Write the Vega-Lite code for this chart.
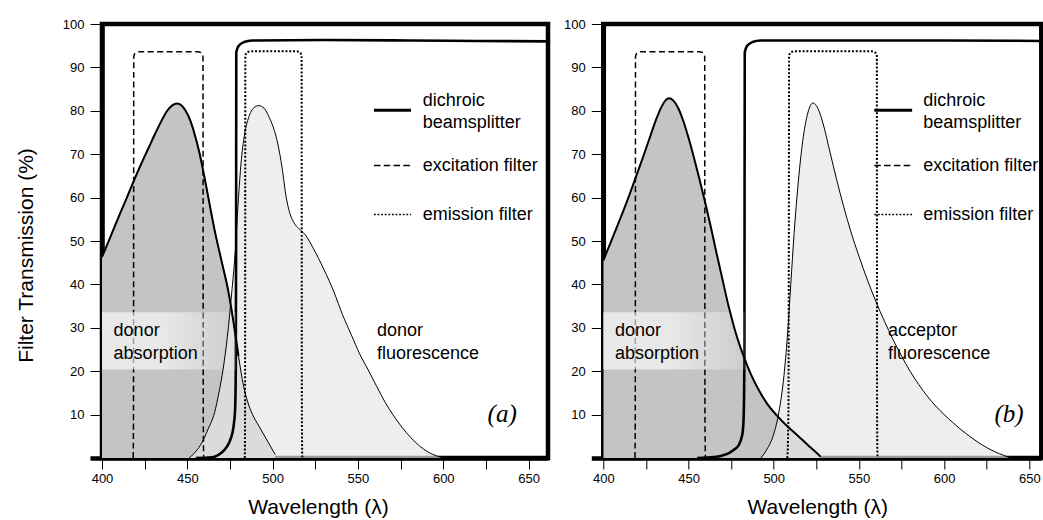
{
  "$schema": "https://vega.github.io/schema/vega-lite/v6.json",
  "padding": {"left": 13, "top": 15, "right": 0, "bottom": 0},
  "background": "white",
  "config": {
    "view": {"stroke": "black", "strokeWidth": 4.5},
    "font": "Liberation Sans",
    "axis": {
      "labelFont": "Liberation Sans", "labelFontSize": 13, "labelColor": "black",
      "titleFont": "Liberation Sans", "titleFontSize": 21, "titleFontWeight": "normal", "titleColor": "black",
      "tickColor": "black", "grid": false, "domainColor": "black", "domainWidth": 4.5, "zindex": 1,
      "labelFlush": false, "labelOverlap": false
    }
  },
  "datasets": {
    "curves": [
      {"p":"a","s":"abs","w":400,"v":46.3},{"p":"a","s":"abs","w":405,"v":51},{"p":"a","s":"abs","w":410,"v":55.8},{"p":"a","s":"abs","w":415,"v":60.4},{"p":"a","s":"abs","w":419,"v":64.2},{"p":"a","s":"abs","w":423,"v":67.8},{"p":"a","s":"abs","w":427,"v":71.2},{"p":"a","s":"abs","w":431,"v":74.6},{"p":"a","s":"abs","w":435,"v":77.8},{"p":"a","s":"abs","w":438,"v":79.9},{"p":"a","s":"abs","w":441,"v":81.2},{"p":"a","s":"abs","w":444,"v":81.7},{"p":"a","s":"abs","w":446.5,"v":81.3},{"p":"a","s":"abs","w":449,"v":80},{"p":"a","s":"abs","w":451.5,"v":78},{"p":"a","s":"abs","w":454,"v":75},{"p":"a","s":"abs","w":457,"v":70.5},{"p":"a","s":"abs","w":460,"v":64.8},{"p":"a","s":"abs","w":463,"v":58.6},{"p":"a","s":"abs","w":466,"v":52.5},{"p":"a","s":"abs","w":470,"v":45.5},{"p":"a","s":"abs","w":474,"v":38.5},{"p":"a","s":"abs","w":477,"v":31.5},{"p":"a","s":"abs","w":480,"v":23.5},{"p":"a","s":"abs","w":483,"v":16.5},{"p":"a","s":"abs","w":486,"v":12.2},{"p":"a","s":"abs","w":489,"v":9.4},{"p":"a","s":"abs","w":491,"v":8},{"p":"a","s":"abs","w":496,"v":4.6},{"p":"a","s":"abs","w":501.5,"v":0.8},
      {"p":"a","s":"flu","w":451,"v":0},{"p":"a","s":"flu","w":455,"v":1.5},{"p":"a","s":"flu","w":458.5,"v":3.5},{"p":"a","s":"flu","w":462,"v":6.5},{"p":"a","s":"flu","w":466,"v":10.5},{"p":"a","s":"flu","w":468.5,"v":15},{"p":"a","s":"flu","w":471,"v":20.5},{"p":"a","s":"flu","w":473.5,"v":28},{"p":"a","s":"flu","w":476,"v":38},{"p":"a","s":"flu","w":478,"v":47},{"p":"a","s":"flu","w":480,"v":60},{"p":"a","s":"flu","w":481.5,"v":68},{"p":"a","s":"flu","w":483.5,"v":74.5},{"p":"a","s":"flu","w":486,"v":78.5},{"p":"a","s":"flu","w":489,"v":80.7},{"p":"a","s":"flu","w":492,"v":81.2},{"p":"a","s":"flu","w":495,"v":80.6},{"p":"a","s":"flu","w":498,"v":78.5},{"p":"a","s":"flu","w":501,"v":75.5},{"p":"a","s":"flu","w":503,"v":72.5},{"p":"a","s":"flu","w":505.5,"v":67},{"p":"a","s":"flu","w":508,"v":60},{"p":"a","s":"flu","w":510,"v":56.5},{"p":"a","s":"flu","w":512.5,"v":54.2},{"p":"a","s":"flu","w":515.5,"v":52.8},{"p":"a","s":"flu","w":519,"v":51.5},{"p":"a","s":"flu","w":524,"v":48.2},{"p":"a","s":"flu","w":530,"v":43.5},{"p":"a","s":"flu","w":536,"v":38.2},{"p":"a","s":"flu","w":541,"v":33},{"p":"a","s":"flu","w":546,"v":28.5},{"p":"a","s":"flu","w":551,"v":24},{"p":"a","s":"flu","w":556,"v":20.3},{"p":"a","s":"flu","w":561,"v":16.5},{"p":"a","s":"flu","w":566,"v":12.8},{"p":"a","s":"flu","w":571,"v":9.7},{"p":"a","s":"flu","w":576,"v":7},{"p":"a","s":"flu","w":581,"v":4.7},{"p":"a","s":"flu","w":586,"v":2.8},{"p":"a","s":"flu","w":591,"v":1.4},{"p":"a","s":"flu","w":596,"v":0.5},{"p":"a","s":"flu","w":600,"v":0},
      {"p":"b","s":"abs","w":400,"v":45.5},{"p":"b","s":"abs","w":405,"v":50.3},{"p":"b","s":"abs","w":410,"v":55.2},{"p":"b","s":"abs","w":415,"v":60.3},{"p":"b","s":"abs","w":419,"v":64.6},{"p":"b","s":"abs","w":423,"v":69},{"p":"b","s":"abs","w":427,"v":73.5},{"p":"b","s":"abs","w":431,"v":78},{"p":"b","s":"abs","w":434,"v":80.8},{"p":"b","s":"abs","w":436.5,"v":82.4},{"p":"b","s":"abs","w":438.5,"v":82.9},{"p":"b","s":"abs","w":441,"v":82.4},{"p":"b","s":"abs","w":444,"v":80.6},{"p":"b","s":"abs","w":447,"v":77.6},{"p":"b","s":"abs","w":450,"v":73.8},{"p":"b","s":"abs","w":454,"v":68},{"p":"b","s":"abs","w":457,"v":63.3},{"p":"b","s":"abs","w":460,"v":58.5},{"p":"b","s":"abs","w":463,"v":53.4},{"p":"b","s":"abs","w":466,"v":48},{"p":"b","s":"abs","w":470,"v":41},{"p":"b","s":"abs","w":473.5,"v":35},{"p":"b","s":"abs","w":477,"v":29.8},{"p":"b","s":"abs","w":480,"v":26},{"p":"b","s":"abs","w":483,"v":22.8},{"p":"b","s":"abs","w":486.5,"v":19.4},{"p":"b","s":"abs","w":490.5,"v":16.2},{"p":"b","s":"abs","w":496,"v":12.6},{"p":"b","s":"abs","w":502.3,"v":9.6},{"p":"b","s":"abs","w":508,"v":7.3},{"p":"b","s":"abs","w":514,"v":5.2},{"p":"b","s":"abs","w":520,"v":3},{"p":"b","s":"abs","w":524,"v":1.6},{"p":"b","s":"abs","w":527.5,"v":0.3},
      {"p":"b","s":"flu","w":492.5,"v":0},{"p":"b","s":"flu","w":496,"v":2},{"p":"b","s":"flu","w":500,"v":5.5},{"p":"b","s":"flu","w":503,"v":10.5},{"p":"b","s":"flu","w":506,"v":19},{"p":"b","s":"flu","w":508,"v":28},{"p":"b","s":"flu","w":510,"v":40},{"p":"b","s":"flu","w":512,"v":52},{"p":"b","s":"flu","w":514.5,"v":64},{"p":"b","s":"flu","w":517,"v":73},{"p":"b","s":"flu","w":520,"v":79.5},{"p":"b","s":"flu","w":523,"v":81.8},{"p":"b","s":"flu","w":526,"v":80.5},{"p":"b","s":"flu","w":529,"v":77},{"p":"b","s":"flu","w":533,"v":70.5},{"p":"b","s":"flu","w":537,"v":64},{"p":"b","s":"flu","w":541,"v":58},{"p":"b","s":"flu","w":545,"v":52.5},{"p":"b","s":"flu","w":550,"v":46.5},{"p":"b","s":"flu","w":555,"v":41},{"p":"b","s":"flu","w":560,"v":36},{"p":"b","s":"flu","w":565,"v":31.5},{"p":"b","s":"flu","w":570,"v":27.3},{"p":"b","s":"flu","w":575,"v":23.5},{"p":"b","s":"flu","w":580,"v":20},{"p":"b","s":"flu","w":585,"v":17},{"p":"b","s":"flu","w":590,"v":14.3},{"p":"b","s":"flu","w":595,"v":12},{"p":"b","s":"flu","w":600,"v":10},{"p":"b","s":"flu","w":605,"v":8.2},{"p":"b","s":"flu","w":610,"v":6.5},{"p":"b","s":"flu","w":615,"v":5},{"p":"b","s":"flu","w":620,"v":3.6},{"p":"b","s":"flu","w":625,"v":2.4},{"p":"b","s":"flu","w":630,"v":1.4},{"p":"b","s":"flu","w":635,"v":0.6},{"p":"b","s":"flu","w":639,"v":0}
    ],
    "filters": [
      {"p":"a","f":"dichroic","w":455,"v":0},{"p":"a","f":"dichroic","w":462,"v":0.1},{"p":"a","f":"dichroic","w":466,"v":0.3},{"p":"a","f":"dichroic","w":470,"v":1.2},{"p":"a","f":"dichroic","w":473,"v":2.5},{"p":"a","f":"dichroic","w":475.5,"v":4.5},{"p":"a","f":"dichroic","w":477,"v":7},{"p":"a","f":"dichroic","w":478,"v":11},{"p":"a","f":"dichroic","w":478.4,"v":20},{"p":"a","f":"dichroic","w":478.6,"v":50},{"p":"a","f":"dichroic","w":478.7,"v":93.5},{"p":"a","f":"dichroic","w":479.9,"v":94.85},{"p":"a","f":"dichroic","w":483.3,"v":95.84},{"p":"a","f":"dichroic","w":487.9,"v":96.2},{"p":"a","f":"dichroic","w":530,"v":96.3},{"p":"a","f":"dichroic","w":580,"v":96.2},{"p":"a","f":"dichroic","w":620,"v":96.1},{"p":"a","f":"dichroic","w":662,"v":96},
      {"p":"a","f":"excitation","w":418.3,"v":0},{"p":"a","f":"excitation","w":418.45,"v":10},{"p":"a","f":"excitation","w":418.55,"v":60},{"p":"a","f":"excitation","w":418.6,"v":92.45},{"p":"a","f":"excitation","w":419,"v":93.03},{"p":"a","f":"excitation","w":420.07,"v":93.45},{"p":"a","f":"excitation","w":421.5,"v":93.6},{"p":"a","f":"excitation","w":456.2,"v":93.6},{"p":"a","f":"excitation","w":457.7,"v":93.45},{"p":"a","f":"excitation","w":458.8,"v":93.03},{"p":"a","f":"excitation","w":459.2,"v":92.45},{"p":"a","f":"excitation","w":459.25,"v":60},{"p":"a","f":"excitation","w":459.35,"v":10},{"p":"a","f":"excitation","w":459.6,"v":0},
      {"p":"a","f":"emission","w":483.7,"v":0},{"p":"a","f":"emission","w":483.85,"v":10},{"p":"a","f":"emission","w":483.95,"v":60},{"p":"a","f":"emission","w":484,"v":92.55},{"p":"a","f":"emission","w":484.4,"v":93.13},{"p":"a","f":"emission","w":485.47,"v":93.55},{"p":"a","f":"emission","w":486.9,"v":93.7},{"p":"a","f":"emission","w":514.1,"v":93.7},{"p":"a","f":"emission","w":515.53,"v":93.55},{"p":"a","f":"emission","w":516.6,"v":93.13},{"p":"a","f":"emission","w":517,"v":92.55},{"p":"a","f":"emission","w":517.05,"v":60},{"p":"a","f":"emission","w":517.15,"v":10},{"p":"a","f":"emission","w":517.4,"v":0},
      {"p":"b","f":"dichroic","w":455,"v":0},{"p":"b","f":"dichroic","w":465,"v":0.2},{"p":"b","f":"dichroic","w":470,"v":0.6},{"p":"b","f":"dichroic","w":474,"v":1.2},{"p":"b","f":"dichroic","w":477,"v":2},{"p":"b","f":"dichroic","w":479.5,"v":3},{"p":"b","f":"dichroic","w":481,"v":4.5},{"p":"b","f":"dichroic","w":481.8,"v":6},{"p":"b","f":"dichroic","w":482.4,"v":10},{"p":"b","f":"dichroic","w":482.8,"v":25},{"p":"b","f":"dichroic","w":483,"v":93.5},{"p":"b","f":"dichroic","w":484.2,"v":94.85},{"p":"b","f":"dichroic","w":487.6,"v":95.84},{"p":"b","f":"dichroic","w":492.2,"v":96.2},{"p":"b","f":"dichroic","w":540,"v":96.2},{"p":"b","f":"dichroic","w":600,"v":96.2},{"p":"b","f":"dichroic","w":657,"v":96.1},
      {"p":"b","f":"excitation","w":418.6,"v":0},{"p":"b","f":"excitation","w":418.75,"v":10},{"p":"b","f":"excitation","w":418.85,"v":60},{"p":"b","f":"excitation","w":418.9,"v":92.45},{"p":"b","f":"excitation","w":419.3,"v":93.03},{"p":"b","f":"excitation","w":420.37,"v":93.45},{"p":"b","f":"excitation","w":421.8,"v":93.6},{"p":"b","f":"excitation","w":456.5,"v":93.6},{"p":"b","f":"excitation","w":458,"v":93.45},{"p":"b","f":"excitation","w":459.1,"v":93.03},{"p":"b","f":"excitation","w":459.5,"v":92.45},{"p":"b","f":"excitation","w":459.55,"v":60},{"p":"b","f":"excitation","w":459.65,"v":10},{"p":"b","f":"excitation","w":459.9,"v":0},
      {"p":"b","f":"emission","w":508,"v":0},{"p":"b","f":"emission","w":508.6,"v":10},{"p":"b","f":"emission","w":508.9,"v":60},{"p":"b","f":"emission","w":509,"v":92.55},{"p":"b","f":"emission","w":509.4,"v":93.13},{"p":"b","f":"emission","w":510.47,"v":93.55},{"p":"b","f":"emission","w":511.9,"v":93.7},{"p":"b","f":"emission","w":557.6,"v":93.7},{"p":"b","f":"emission","w":559.03,"v":93.55},{"p":"b","f":"emission","w":560.1,"v":93.13},{"p":"b","f":"emission","w":560.5,"v":92.55},{"p":"b","f":"emission","w":560.55,"v":60},{"p":"b","f":"emission","w":560.65,"v":10},{"p":"b","f":"emission","w":560.9,"v":0}
    ],
    "one": [{"n": 1}]
  },
  "bounds": "flush",
  "spacing": 55.3,
  "hconcat": [
    {
      "width": 446, "height": 434,
      "layer": [
        {"data": {"name": "curves"}, "transform": [{"filter": "datum.p == 'a' && datum.s == 'abs'"}], "mark": {"type": "area", "interpolate": "monotone", "color": "#c4c4c4", "clip": true},
          "encoding": {
            "x": {"field": "w", "type": "quantitative", "scale": {"domain": [400, 661.4], "nice": false, "zero": false},
              "axis": {"values": [400,425,450,475,500,525,550,575,600,625,650], "labelExpr": "datum.value % 50 == 0 ? datum.label : ''", "tickSize": 11, "labelPadding": 3, "title": "Wavelength (λ)", "titlePadding": 11, "titleX": 216}},
            "y": {"field": "v", "type": "quantitative", "scale": {"domain": [0, 100], "nice": false, "zero": true},
              "axis": {"values": [0,10,20,30,40,50,60,70,80,90,100], "labelExpr": "datum.value == 0 ? '' : datum.label", "tickSize": 12, "tickWidth": {"condition": {"test": "datum.value == 0", "value": 4.5}, "value": 1}, "labelPadding": 6, "title": "Filter Transmission (%)", "titlePadding": 26, "titleY": 231}}
          }},
        {"data": {"name": "curves"}, "transform": [{"filter": "datum.p == 'a' && datum.s == 'flu'"}], "mark": {"type": "area", "interpolate": "monotone", "color": "#e6e6e6", "opacity": 0.67, "clip": true},
          "encoding": {"x": {"field": "w", "type": "quantitative", "scale": {"domain": [400, 661.4], "nice": false, "zero": false}}, "y": {"field": "v", "type": "quantitative", "scale": {"domain": [0, 100], "nice": false, "zero": true}}}},
        {"data": {"name": "filters"}, "transform": [{"filter": "datum.p == 'a' && datum.f == 'dichroic'"}], "mark": {"type": "line", "interpolate": "monotone", "color": "black", "strokeWidth": 2.6, "clip": true},
          "encoding": {"x": {"field": "w", "type": "quantitative", "scale": {"domain": [400, 661.4], "nice": false, "zero": false}}, "y": {"field": "v", "type": "quantitative", "scale": {"domain": [0, 100], "nice": false, "zero": true}}}},
        {"data": {"name": "filters"}, "transform": [{"filter": "datum.p == 'a' && datum.f == 'excitation'"}], "mark": {"type": "line", "interpolate": "monotone", "color": "black", "strokeWidth": 1.5, "strokeDash": [6, 3.5], "clip": true},
          "encoding": {"x": {"field": "w", "type": "quantitative", "scale": {"domain": [400, 661.4], "nice": false, "zero": false}}, "y": {"field": "v", "type": "quantitative", "scale": {"domain": [0, 100], "nice": false, "zero": true}}}},
        {"data": {"name": "filters"}, "transform": [{"filter": "datum.p == 'a' && datum.f == 'emission'"}], "mark": {"type": "line", "interpolate": "monotone", "color": "black", "strokeWidth": 2, "strokeDash": [2, 1.8], "clip": true},
          "encoding": {"x": {"field": "w", "type": "quantitative", "scale": {"domain": [400, 661.4], "nice": false, "zero": false}}, "y": {"field": "v", "type": "quantitative", "scale": {"domain": [0, 100], "nice": false, "zero": true}}}},
        {"data": {"name": "one"}, "mark": {"type": "rect", "fill": {"gradient": "linear", "x1": 0, "x2": 1, "y1": 0, "y2": 0, "stops": [{"offset": 0, "color": "rgba(255,255,255,0.62)"}, {"offset": 0.45, "color": "rgba(255,255,255,0.62)"}, {"offset": 1, "color": "rgba(255,255,255,0.15)"}]}},
          "encoding": {"x": {"datum": 400}, "x2": {"datum": 478.6}, "y": {"datum": 20.4}, "y2": {"datum": 33.6}}},
        {"data": {"name": "curves"}, "transform": [{"filter": "datum.p == 'a' && datum.s == 'abs'"}], "mark": {"type": "line", "interpolate": "monotone", "color": "black", "strokeWidth": 1, "clip": true},
          "encoding": {"x": {"field": "w", "type": "quantitative", "scale": {"domain": [400, 661.4], "nice": false, "zero": false}}, "y": {"field": "v", "type": "quantitative", "scale": {"domain": [0, 100], "nice": false, "zero": true}}}},
        {"data": {"name": "curves"}, "transform": [{"filter": "datum.p == 'a' && datum.s == 'abs' && datum.w <= 480"}], "mark": {"type": "line", "interpolate": "monotone", "color": "black", "strokeWidth": 2, "clip": true},
          "encoding": {"x": {"field": "w", "type": "quantitative", "scale": {"domain": [400, 661.4], "nice": false, "zero": false}}, "y": {"field": "v", "type": "quantitative", "scale": {"domain": [0, 100], "nice": false, "zero": true}}}},
        {"data": {"name": "curves"}, "transform": [{"filter": "datum.p == 'a' && datum.s == 'flu'"}], "mark": {"type": "line", "interpolate": "monotone", "color": "black", "strokeWidth": 1, "clip": true},
          "encoding": {"x": {"field": "w", "type": "quantitative", "scale": {"domain": [400, 661.4], "nice": false, "zero": false}}, "y": {"field": "v", "type": "quantitative", "scale": {"domain": [0, 100], "nice": false, "zero": true}}}},
        {"data": {"name": "one"}, "mark": {"type": "rule", "color": "black", "strokeWidth": 3}, "encoding": {"x": {"datum": 559.4}, "x2": {"datum": 581.1}, "y": {"datum": 80.1}}},
        {"data": {"name": "one"}, "mark": {"type": "rule", "color": "black", "strokeWidth": 1.5, "strokeDash": [6.5, 3.3]}, "encoding": {"x": {"datum": 559.4}, "x2": {"datum": 581.1}, "y": {"datum": 67.4}}},
        {"data": {"name": "one"}, "mark": {"type": "rule", "color": "black", "strokeWidth": 1.6, "strokeDash": [1.8, 1.8]}, "encoding": {"x": {"datum": 559.4}, "x2": {"datum": 581.1}, "y": {"datum": 56.1}}},
        {"data": {"name": "one"}, "mark": {"type": "text", "text": ["dichroic", "beamsplitter"], "align": "left", "baseline": "middle", "fontSize": 18, "lineHeight": 22.5, "font": "Liberation Sans", "color": "black"}, "encoding": {"x": {"datum": 588}, "y": {"datum": 82.3}}},
        {"data": {"name": "one"}, "mark": {"type": "text", "text": "excitation filter", "align": "left", "baseline": "middle", "fontSize": 18, "font": "Liberation Sans", "color": "black"}, "encoding": {"x": {"datum": 588}, "y": {"datum": 67.3}}},
        {"data": {"name": "one"}, "mark": {"type": "text", "text": "emission filter", "align": "left", "baseline": "middle", "fontSize": 18, "font": "Liberation Sans", "color": "black"}, "encoding": {"x": {"datum": 588}, "y": {"datum": 56}}},
        {"data": {"name": "one"}, "mark": {"type": "text", "text": ["donor", "absorption"], "align": "left", "baseline": "alphabetic", "fontSize": 18, "lineHeight": 23, "font": "Liberation Sans", "color": "black"}, "encoding": {"x": {"datum": 406.8}, "y": {"datum": 28.1}}},
        {"data": {"name": "one"}, "mark": {"type": "text", "text": ["donor", "fluorescence"], "align": "left", "baseline": "alphabetic", "fontSize": 18, "lineHeight": 23, "font": "Liberation Sans", "color": "black"}, "encoding": {"x": {"datum": 561.2}, "y": {"datum": 28.1}}},
        {"data": {"name": "one"}, "mark": {"type": "text", "text": "(a)", "align": "left", "baseline": "alphabetic", "fontSize": 25, "font": "Liberation Serif", "fontStyle": "italic", "color": "black"}, "encoding": {"x": {"datum": 626}, "y": {"datum": 8.2}}}
      ]
    },
    {
      "width": 438, "height": 434,
      "layer": [
        {"data": {"name": "curves"}, "transform": [{"filter": "datum.p == 'b' && datum.s == 'abs'"}], "mark": {"type": "area", "interpolate": "monotone", "color": "#c4c4c4", "clip": true},
          "encoding": {
            "x": {"field": "w", "type": "quantitative", "scale": {"domain": [400, 657], "nice": false, "zero": false},
              "axis": {"values": [400,425,450,475,500,525,550,575,600,625,650], "labelExpr": "datum.value % 50 == 0 ? datum.label : ''", "tickSize": 11, "labelPadding": 3, "title": "Wavelength (λ)", "titlePadding": 11, "titleX": 214}},
            "y": {"field": "v", "type": "quantitative", "scale": {"domain": [0, 100], "nice": false, "zero": true},
              "axis": {"values": [0,10,20,30,40,50,60,70,80,90,100], "labelExpr": "datum.value == 0 ? '' : datum.label", "tickSize": 12, "tickWidth": {"condition": {"test": "datum.value == 0", "value": 4.5}, "value": 1}, "labelPadding": 6, "title": null}}
          }},
        {"data": {"name": "curves"}, "transform": [{"filter": "datum.p == 'b' && datum.s == 'flu'"}], "mark": {"type": "area", "interpolate": "monotone", "color": "#e6e6e6", "opacity": 0.67, "clip": true},
          "encoding": {"x": {"field": "w", "type": "quantitative", "scale": {"domain": [400, 657], "nice": false, "zero": false}}, "y": {"field": "v", "type": "quantitative", "scale": {"domain": [0, 100], "nice": false, "zero": true}}}},
        {"data": {"name": "filters"}, "transform": [{"filter": "datum.p == 'b' && datum.f == 'dichroic'"}], "mark": {"type": "line", "interpolate": "monotone", "color": "black", "strokeWidth": 2.6, "clip": true},
          "encoding": {"x": {"field": "w", "type": "quantitative", "scale": {"domain": [400, 657], "nice": false, "zero": false}}, "y": {"field": "v", "type": "quantitative", "scale": {"domain": [0, 100], "nice": false, "zero": true}}}},
        {"data": {"name": "filters"}, "transform": [{"filter": "datum.p == 'b' && datum.f == 'excitation'"}], "mark": {"type": "line", "interpolate": "monotone", "color": "black", "strokeWidth": 1.5, "strokeDash": [6, 3.5], "clip": true},
          "encoding": {"x": {"field": "w", "type": "quantitative", "scale": {"domain": [400, 657], "nice": false, "zero": false}}, "y": {"field": "v", "type": "quantitative", "scale": {"domain": [0, 100], "nice": false, "zero": true}}}},
        {"data": {"name": "filters"}, "transform": [{"filter": "datum.p == 'b' && datum.f == 'emission'"}], "mark": {"type": "line", "interpolate": "monotone", "color": "black", "strokeWidth": 2, "strokeDash": [2, 1.8], "clip": true},
          "encoding": {"x": {"field": "w", "type": "quantitative", "scale": {"domain": [400, 657], "nice": false, "zero": false}}, "y": {"field": "v", "type": "quantitative", "scale": {"domain": [0, 100], "nice": false, "zero": true}}}},
        {"data": {"name": "one"}, "mark": {"type": "rect", "fill": {"gradient": "linear", "x1": 0, "x2": 1, "y1": 0, "y2": 0, "stops": [{"offset": 0, "color": "rgba(255,255,255,0.62)"}, {"offset": 0.45, "color": "rgba(255,255,255,0.62)"}, {"offset": 1, "color": "rgba(255,255,255,0.15)"}]}},
          "encoding": {"x": {"datum": 400}, "x2": {"datum": 483}, "y": {"datum": 20.4}, "y2": {"datum": 33.6}}},
        {"data": {"name": "curves"}, "transform": [{"filter": "datum.p == 'b' && datum.s == 'abs'"}], "mark": {"type": "line", "interpolate": "monotone", "color": "black", "strokeWidth": 2, "clip": true},
          "encoding": {"x": {"field": "w", "type": "quantitative", "scale": {"domain": [400, 657], "nice": false, "zero": false}}, "y": {"field": "v", "type": "quantitative", "scale": {"domain": [0, 100], "nice": false, "zero": true}}}},
        {"data": {"name": "curves"}, "transform": [{"filter": "datum.p == 'b' && datum.s == 'flu'"}], "mark": {"type": "line", "interpolate": "monotone", "color": "black", "strokeWidth": 1, "clip": true},
          "encoding": {"x": {"field": "w", "type": "quantitative", "scale": {"domain": [400, 657], "nice": false, "zero": false}}, "y": {"field": "v", "type": "quantitative", "scale": {"domain": [0, 100], "nice": false, "zero": true}}}},
        {"data": {"name": "one"}, "mark": {"type": "rule", "color": "black", "strokeWidth": 3}, "encoding": {"x": {"datum": 559}, "x2": {"datum": 581.2}, "y": {"datum": 80.1}}},
        {"data": {"name": "one"}, "mark": {"type": "rule", "color": "black", "strokeWidth": 1.5, "strokeDash": [6.5, 3.3]}, "encoding": {"x": {"datum": 559}, "x2": {"datum": 581.2}, "y": {"datum": 67.4}}},
        {"data": {"name": "one"}, "mark": {"type": "rule", "color": "black", "strokeWidth": 1.6, "strokeDash": [1.8, 1.8]}, "encoding": {"x": {"datum": 559}, "x2": {"datum": 581.2}, "y": {"datum": 56.1}}},
        {"data": {"name": "one"}, "mark": {"type": "text", "text": ["dichroic", "beamsplitter"], "align": "left", "baseline": "middle", "fontSize": 18, "lineHeight": 22.5, "font": "Liberation Sans", "color": "black"}, "encoding": {"x": {"datum": 587.7}, "y": {"datum": 82.3}}},
        {"data": {"name": "one"}, "mark": {"type": "text", "text": "excitation filter", "align": "left", "baseline": "middle", "fontSize": 18, "font": "Liberation Sans", "color": "black"}, "encoding": {"x": {"datum": 587.7}, "y": {"datum": 67.3}}},
        {"data": {"name": "one"}, "mark": {"type": "text", "text": "emission filter", "align": "left", "baseline": "middle", "fontSize": 18, "font": "Liberation Sans", "color": "black"}, "encoding": {"x": {"datum": 587.7}, "y": {"datum": 56}}},
        {"data": {"name": "one"}, "mark": {"type": "text", "text": ["donor", "absorption"], "align": "left", "baseline": "alphabetic", "fontSize": 18, "lineHeight": 23, "font": "Liberation Sans", "color": "black"}, "encoding": {"x": {"datum": 406.9}, "y": {"datum": 28.1}}},
        {"data": {"name": "one"}, "mark": {"type": "text", "text": ["acceptor", "fluorescence"], "align": "left", "baseline": "alphabetic", "fontSize": 18, "lineHeight": 23, "font": "Liberation Sans", "color": "black"}, "encoding": {"x": {"datum": 567.1}, "y": {"datum": 28.1}}},
        {"data": {"name": "one"}, "mark": {"type": "text", "text": "(b)", "align": "left", "baseline": "alphabetic", "fontSize": 25, "font": "Liberation Serif", "fontStyle": "italic", "color": "black"}, "encoding": {"x": {"datum": 629.5}, "y": {"datum": 8.2}}}
      ]
    }
  ]
}
